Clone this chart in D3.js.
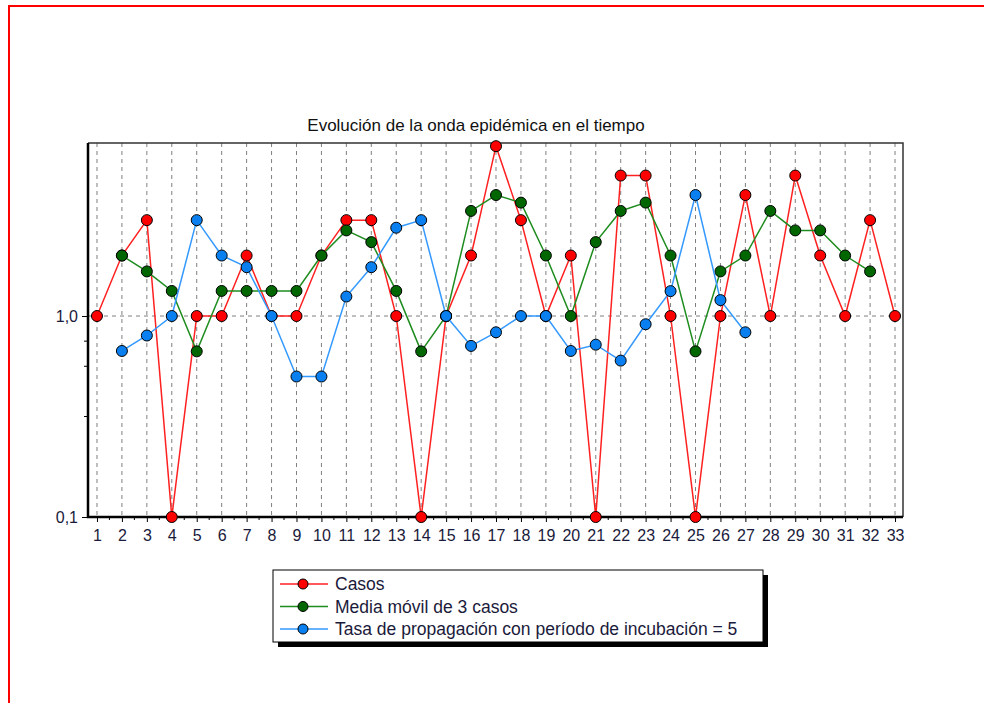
<!DOCTYPE html>
<html>
<head>
<meta charset="utf-8">
<script src="https://cdn.jsdelivr.net/npm/d3@7"></script>
<style>
  html, body { margin: 0; padding: 0; background: #fff; }
  svg { display: block; }
  text { font-family: "Liberation Sans", Arial, sans-serif; }
</style>
</head>
<body>
<script>
// ---- data ----
const days = d3.range(1, 34);                       // 1..33
const xTickLabels = days.map(String);
const casos = [1,2,3,0,1,1,2,1,1,2,3,3,1,0,1,2,7,3,1,2,0,5,5,1,0,1,4,1,5,2,1,3,1];
const mediaDays = d3.range(2, 33);                  // 2..32
const mediaMovil = [2,1.667,1.333,0.667,1.333,1.333,1.333,1.333,2,2.667,2.333,1.333,0.667,1,
                    3.333,4,3.667,2,1,2.333,3.333,3.667,2,0.667,1.667,2,3.333,2.667,2.667,2,1.667];
const tasaDays = d3.range(2, 28);                   // 2..27
const tasa = [0.67,0.8,1.0,3.0,2.0,1.75,1.0,0.5,0.5,1.25,1.75,2.75,3.0,1.0,0.71,0.83,1.0,1.0,
              0.67,0.72,0.6,0.91,1.33,4.0,1.2,0.83];
const yTickValues = [0.1, 1];
const yTickLabels = ["0,1", "1,0"];
const yMinorTicks = [0.3162, 0.5623, 0.7499];
const seriesNames = ["Casos", "Media móvil de 3 casos", "Tasa de propagación con período de incubación = 5"];
const title = "Evolución de la onda epidémica en el tiempo";

// ---- layout ----
const W = 984, H = 703;
const L = 88, R = 903, T = 143, B = 517;
const svg = d3.select("body").append("svg").attr("width", W).attr("height", H);

// red frame
svg.append("path").attr("d", `M9,${H} L9,6 L${W},6`).attr("fill", "none")
  .attr("stroke", "#ff0000").attr("stroke-width", 2);

const x = d3.scaleLinear().domain([0.64, 33.32]).range([L, R]);
const y = d3.scaleLog().domain([0.1, 7.26]).range([B, T]);
const yv = v => y(Math.max(v, 0.1));

// title
svg.append("text").attr("x", 476).attr("y", 131).attr("text-anchor", "middle")
  .attr("font-size", 17).attr("fill", "#111").text(title);

// vertical grid
svg.append("g").selectAll("line").data(days).join("line")
  .attr("x1", d => x(d)).attr("x2", d => x(d)).attr("y1", T).attr("y2", B)
  .attr("stroke", "#808080").attr("stroke-dasharray", "4,4").attr("stroke-width", 1);
// horizontal grid at 1.0
svg.append("line").attr("x1", L).attr("x2", R).attr("y1", y(1)).attr("y2", y(1))
  .attr("stroke", "#808080").attr("stroke-dasharray", "4,4").attr("stroke-width", 1);

// frame top/right
svg.append("path").attr("d", `M${L},${T} L${R},${T} L${R},${B}`).attr("fill", "none")
  .attr("stroke", "#333").attr("stroke-width", 1.5);

// axes
const xAxis = d3.axisBottom(x).tickValues(days).tickFormat((d, i) => xTickLabels[i])
  .tickSize(5).tickPadding(8);
const gx = svg.append("g").attr("transform", `translate(0,${B})`).call(xAxis);
gx.select(".domain").remove();
gx.selectAll("text").attr("font-size", 16).attr("fill", "#1a1a3a")
  .attr("font-family", "Liberation Sans, Arial, sans-serif");
gx.selectAll("line").attr("stroke", "#000");
// minor x ticks
svg.append("g").selectAll("line").data(days.slice(0, -1)).join("line")
  .attr("x1", d => x(d + 0.5)).attr("x2", d => x(d + 0.5)).attr("y1", B).attr("y2", B + 3)
  .attr("stroke", "#000");

const yAxis = d3.axisLeft(y).tickValues(yTickValues)
  .tickFormat((d, i) => yTickLabels[i]).tickSize(6).tickPadding(4);
const gy = svg.append("g").attr("transform", `translate(${L},0)`).call(yAxis);
gy.select(".domain").remove();
gy.selectAll("text").attr("font-size", 16).attr("fill", "#1a1a3a")
  .attr("font-family", "Liberation Sans, Arial, sans-serif");
gy.selectAll("line").attr("stroke", "#000");
svg.append("g").selectAll("line").data(yMinorTicks).join("line")
  .attr("x1", L - 4).attr("x2", L).attr("y1", d => y(d)).attr("y2", d => y(d))
  .attr("stroke", "#000");

// left & bottom thick axis lines
svg.append("path").attr("d", `M${L},${T} L${L},${B} L${R},${B}`).attr("fill", "none")
  .attr("stroke", "#000").attr("stroke-width", 2.5);

// series
const series = [
  { name: seriesNames[0], xs: days, ys: casos, line: "#ff2020", fill: "#ff0000" },
  { name: seriesNames[1], xs: mediaDays, ys: mediaMovil, line: "#1e8c1e", fill: "#006600" },
  { name: seriesNames[2], xs: tasaDays, ys: tasa, line: "#3399ff", fill: "#0a80f0" }
];
const lineGen = d3.line().x(d => x(d[0])).y(d => yv(d[1]));
series.forEach(s => {
  const pts = s.xs.map((d, i) => [d, s.ys[i]]);
  svg.append("path").datum(pts).attr("d", lineGen).attr("fill", "none")
    .attr("stroke", s.line).attr("stroke-width", 1.5);
  svg.append("g").selectAll("circle").data(pts).join("circle")
    .attr("cx", d => x(d[0])).attr("cy", d => yv(d[1])).attr("r", 5.5)
    .attr("fill", s.fill).attr("stroke", "#000").attr("stroke-width", 1);
});

// legend
const lg = svg.append("g");
const lx = 273, ly = 570, lw = 490, lh = 72;
lg.append("rect").attr("x", lx + 5).attr("y", ly + 5).attr("width", lw).attr("height", lh).attr("fill", "#000");
lg.append("rect").attr("x", lx).attr("y", ly).attr("width", lw).attr("height", lh)
  .attr("fill", "#fff").attr("stroke", "#000").attr("stroke-width", 1);
series.forEach((s, i) => {
  const cy = ly + 14 + i * 22.5;
  lg.append("line").attr("x1", lx + 7).attr("x2", lx + 55).attr("y1", cy).attr("y2", cy)
    .attr("stroke", s.line).attr("stroke-width", 1.5);
  lg.append("circle").attr("cx", lx + 30).attr("cy", cy).attr("r", 5)
    .attr("fill", s.fill).attr("stroke", "#000").attr("stroke-width", 1);
  lg.append("text").attr("x", lx + 62).attr("y", cy + 6).attr("font-size", 17.5)
    .attr("fill", "#1a1a3a").text(s.name);
});
</script>
</body>
</html>
